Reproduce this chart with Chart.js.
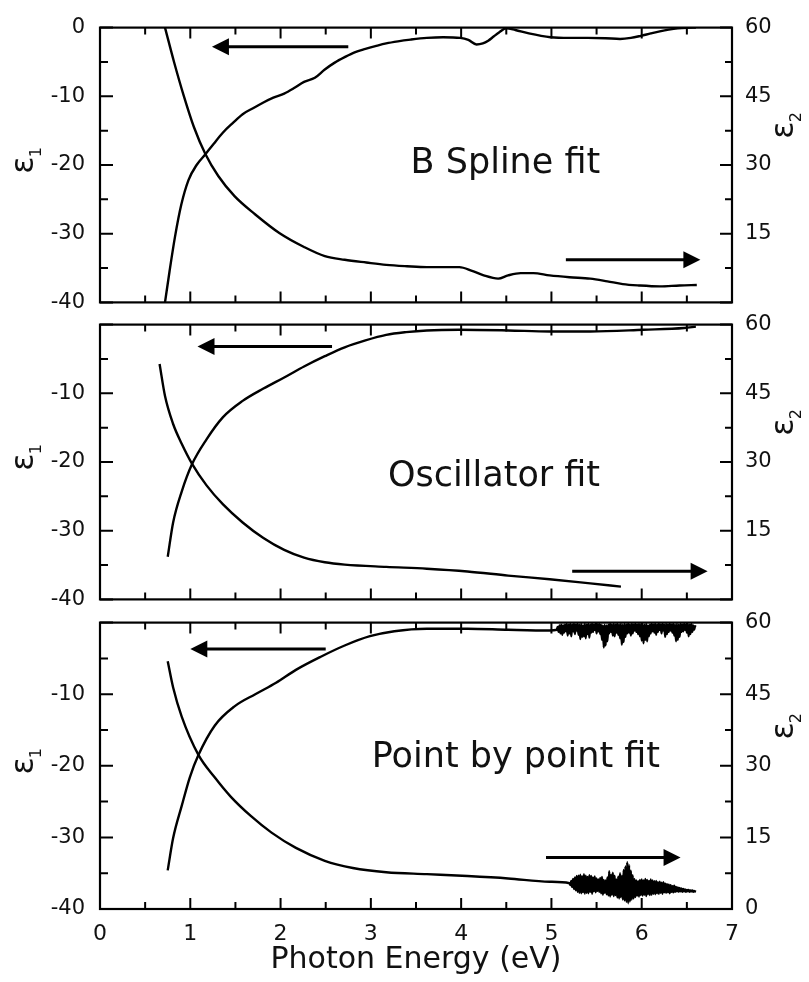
<!DOCTYPE html>
<html>
<head>
<meta charset="utf-8">
<script src="https://cdn.jsdelivr.net/npm/chart.js@4/dist/chart.umd.min.js"></script>
<style>
html,body{margin:0;padding:0;background:#fff;}
#wrap{position:relative;width:809px;height:982px;overflow:hidden;background:#fff;}
canvas{position:absolute;left:0;}
</style>
</head>
<body>
<div id="wrap">
<canvas id="c1" style="top:0px;width:809px;height:330px" width="809" height="330"></canvas>
<canvas id="c2" style="top:297px;width:809px;height:330px" width="809" height="330"></canvas>
<canvas id="c3" style="top:595px;width:809px;height:387px" width="809" height="387"></canvas>
</div>
<script>
// ---------- tick values ----------
const xTickValues = [0, 1, 2, 3, 4, 5, 6, 7];
const xMinorValues = [0.5, 1.5, 2.5, 3.5, 4.5, 5.5, 6.5];
const eps1TickValues = [-40, -30, -20, -10, 0];
const eps1MinorValues = [-35, -25, -15, -5];
const eps2TickValues = [0, 15, 30, 45, 60];
const eps2MinorValues = [7.5, 22.5, 37.5, 52.5];
const xTitle = 'Photon Energy (eV)';
const panelNames = ['B Spline fit', 'Oscillator fit', 'Point by point fit'];

// ---------- B Spline fit ----------
const splineEps1E = [0.72,0.77,0.83,0.90,0.98,1.07,1.17,1.26,1.36,1.47,1.58,1.70,1.81,1.92,2.04,2.15,2.26,2.38,2.49,2.60,2.71,2.82,2.94,3.05,3.17,3.30,3.44,3.62,3.80,3.99,4.08,4.17,4.24,4.30,4.36,4.42,4.50,4.60,4.75,4.99,5.20,5.40,5.60,5.76,5.88,5.99,6.10,6.20,6.30,6.40,6.50,6.60];
const splineEps1 = [-40,-35.5,-30.5,-25.8,-22.2,-20.0,-18.4,-16.9,-15.3,-13.9,-12.6,-11.7,-10.9,-10.2,-9.6,-8.8,-7.9,-7.3,-6.1,-5.1,-4.3,-3.6,-3.1,-2.7,-2.3,-2.0,-1.75,-1.5,-1.4,-1.5,-1.8,-2.45,-2.3,-1.9,-1.3,-0.7,-0.1,-0.35,-0.85,-1.4,-1.5,-1.5,-1.55,-1.65,-1.5,-1.2,-0.85,-0.55,-0.3,-0.12,-0.03,0];
const splineEps2E = [0.72,0.82,0.928,1.04,1.167,1.31,1.49,1.72,1.99,2.26,2.49,2.71,2.95,3.17,3.40,3.62,3.98,4.12,4.25,4.41,4.52,4.66,4.80,4.98,5.20,5.43,5.62,5.79,5.97,6.20,6.42,6.61];
const splineEps2 = [60,52.5,45.1,38.3,32.4,27.6,23.2,19.2,15.1,12.1,10.1,9.3,8.7,8.2,7.9,7.7,7.7,6.9,5.9,5.2,5.9,6.4,6.4,5.9,5.5,5.2,4.6,4.0,3.7,3.5,3.7,3.8];

// ---------- Oscillator fit ----------
const oscEps1E = [0.75,0.81,0.905,1.02,1.18,1.36,1.58,1.81,2.04,2.26,2.49,2.71,2.94,3.17,3.39,3.62,3.98,4.52,4.98,5.43,6.02,6.47,6.60];
const oscEps1 = [-33.8,-28.8,-24.3,-20.3,-16.7,-13.5,-11.1,-9.3,-7.7,-6.1,-4.6,-3.3,-2.3,-1.5,-1.1,-0.85,-0.75,-0.85,-1.0,-1.0,-0.75,-0.5,-0.3];
const oscEps2E = [0.66,0.72,0.81,0.905,1.02,1.18,1.36,1.58,1.81,2.04,2.26,2.49,2.71,3.17,3.62,4.07,4.52,4.98,5.43,5.77];
const oscEps2 = [51.4,44.4,38.3,34.0,29.6,24.9,20.8,16.8,13.4,10.8,9.1,8.1,7.6,7.1,6.7,6.1,5.2,4.4,3.5,2.8];

// ---------- Point by point fit ----------
const pbpEps1E = [0.75,0.81,0.905,0.995,1.09,1.27,1.49,1.72,1.95,2.17,2.44,2.71,2.99,3.26,3.62,4.07,4.52,4.98,
  5.06,5.07,5.08,5.09,5.10,5.11,5.12,5.13,5.14,5.15,
  5.16,5.17,5.18,5.19,5.20,5.21,5.22,5.23,5.24,5.25,
  5.26,5.27,5.28,5.29,5.30,5.31,5.32,5.33,5.34,5.35,
  5.36,5.37,5.38,5.39,5.40,5.41,5.42,5.43,5.44,5.45,
  5.46,5.47,5.48,5.49,5.50,5.51,5.52,5.53,5.54,5.55,
  5.56,5.57,5.58,5.59,5.60,5.61,5.62,5.63,5.64,5.65,
  5.66,5.67,5.68,5.69,5.70,5.71,5.72,5.73,5.74,5.75,
  5.76,5.77,5.78,5.79,5.80,5.81,5.82,5.83,5.84,5.85,
  5.86,5.87,5.88,5.89,5.90,5.91,5.92,5.93,5.94,5.95,
  5.96,5.97,5.98,5.99,6.00,6.01,6.02,6.03,6.04,6.05,
  6.06,6.07,6.08,6.09,6.10,6.11,6.12,6.13,6.14,6.15,
  6.16,6.17,6.18,6.19,6.20,6.21,6.22,6.23,6.24,6.25,
  6.26,6.27,6.28,6.29,6.30,6.31,6.32,6.33,6.34,6.35,
  6.36,6.37,6.38,6.39,6.40,6.41,6.42,6.43,6.44,6.45,
  6.46,6.47,6.48,6.49,6.50,6.51,6.52,6.53,6.54,6.55,
  6.56,6.57,6.58,6.59,6.60];
const pbpEps1 = [-34.6,-30.1,-25.6,-21.6,-18.5,-14.4,-11.7,-10.0,-8.4,-6.6,-4.8,-3.2,-1.9,-1.2,-0.85,-0.85,-1.0,-1.1,
  -1.0,-0.6,-1.3,-0.4,-1.5,-0.3,-1.7,-0.4,-1.4,-0.3,
  -1.2,-0.2,-1.8,-0.3,-1.5,-0.2,-1.9,-0.3,-1.2,-0.2,
  -1.6,-0.3,-1.1,-0.2,-1.7,-0.3,-2.3,-0.2,-2.0,-0.4,
  -1.9,-0.2,-2.2,-0.3,-1.6,-0.2,-2.1,-0.3,-1.4,-0.2,
  -1.3,-0.3,-1.0,-0.2,-1.5,-0.3,-1.2,-0.2,-1.6,-0.3,
  -2.4,-0.4,-3.5,-0.3,-3.2,-0.4,-2.6,-0.3,-1.5,-0.2,
  -1.3,-0.3,-1.8,-0.2,-1.9,-0.3,-1.4,-0.2,-1.7,-0.3,
  -2.2,-0.2,-3.1,-0.3,-2.7,-0.2,-2.0,-0.3,-1.5,-0.2,
  -1.4,-0.3,-1.8,-0.2,-1.5,-0.3,-1.1,-0.2,-1.3,-0.3,
  -1.6,-0.2,-1.9,-0.3,-2.5,-0.2,-2.9,-0.3,-2.4,-0.2,
  -2.6,-0.4,-1.9,-0.3,-1.5,-0.2,-1.2,-0.3,-1.4,-0.2,
  -1.7,-0.3,-1.3,-0.2,-1.0,-0.3,-1.5,-0.2,-1.1,-0.3,
  -2.0,-0.2,-1.6,-0.3,-1.3,-0.2,-1.1,-0.3,-1.4,-0.2,
  -1.8,-0.3,-2.6,-0.2,-2.4,-0.3,-2.0,-0.2,-1.3,-0.3,
  -1.2,-0.2,-1.0,-0.3,-1.4,-0.2,-1.9,-0.3,-1.6,-0.2,
  -1.3,-0.4,-1.0,-0.5,-0.6];
const pbpEps2E = [0.75,0.81,0.905,1.09,1.27,1.45,1.67,1.90,2.17,2.49,2.80,3.17,3.62,4.07,4.52,4.98,
  5.20,5.21,5.22,5.23,5.24,5.25,5.26,5.27,5.28,5.29,
  5.30,5.31,5.32,5.33,5.34,5.35,5.36,5.37,5.38,5.39,
  5.40,5.41,5.42,5.43,5.44,5.45,5.46,5.47,5.48,5.49,
  5.50,5.51,5.52,5.53,5.54,5.55,5.56,5.57,5.58,5.59,
  5.60,5.61,5.62,5.63,5.64,5.65,5.66,5.67,5.68,5.69,
  5.70,5.71,5.72,5.73,5.74,5.75,5.76,5.77,5.78,5.79,
  5.80,5.81,5.82,5.83,5.84,5.85,5.86,5.87,5.88,5.89,
  5.90,5.91,5.92,5.93,5.94,5.95,5.96,5.97,5.98,5.99,
  6.00,6.01,6.02,6.03,6.04,6.05,6.06,6.07,6.08,6.09,
  6.10,6.11,6.12,6.13,6.14,6.15,6.16,6.17,6.18,6.19,
  6.20,6.21,6.22,6.23,6.24,6.25,6.26,6.27,6.28,6.29,
  6.30,6.31,6.32,6.33,6.34,6.35,6.36,6.37,6.38,6.39,
  6.40,6.41,6.42,6.43,6.44,6.45,6.46,6.47,6.48,6.49,
  6.50,6.51,6.52,6.53,6.54,6.55,6.56,6.57,6.58,6.59,
  6.60];
const pbpEps2 = [51.9,46.4,40.3,32.3,27.6,23.5,19.5,16.0,12.8,10.1,8.6,7.7,7.3,6.9,6.4,5.7,
  5.4,5.0,5.9,4.6,6.3,4.2,6.6,3.9,6.9,3.6,
  7.0,3.4,7.2,3.3,6.8,3.5,7.3,3.2,7.0,3.4,
  6.7,3.3,7.1,3.6,6.9,3.2,6.6,3.7,6.8,3.5,
  6.4,3.8,6.2,3.6,6.5,3.3,6.7,3.0,6.1,3.4,
  6.0,3.1,6.6,2.8,7.9,2.6,7.2,3.0,7.6,2.7,
  7.0,2.9,6.2,2.4,6.8,2.2,7.5,2.5,6.9,2.0,
  8.2,1.8,8.9,1.5,9.8,1.2,9.2,1.6,8.0,2.0,
  7.1,2.2,6.3,2.5,6.0,2.8,5.8,2.6,6.1,2.9,
  6.2,2.8,6.0,3.0,6.3,2.7,6.1,3.1,5.9,2.9,
  6.2,3.0,6.0,3.2,5.8,3.1,5.9,3.3,5.6,3.2,
  5.7,3.4,5.5,3.2,5.6,3.5,5.3,3.4,5.2,3.5,
  5.1,3.3,5.0,3.6,4.8,3.5,4.9,3.6,4.6,3.7,
  4.5,3.6,4.4,3.7,4.3,3.6,4.2,3.7,4.1,3.6,
  4.0,3.7,4.0,3.6,3.9,3.7,3.9,3.6,3.8,3.7,
  3.6];

// ---------- rendering ----------
Chart.defaults.font.family = "'DejaVu Sans', sans-serif";
Chart.defaults.font.size = 21;
Chart.defaults.color = '#111';

function pts(xs, ys) { return xs.map((x, i) => ({ x: x, y: ys[i] })); }

function drawEps(ctx, bx, cy, sub) {
  ctx.save();
  ctx.translate(bx, cy);
  ctx.rotate(-Math.PI / 2);
  ctx.fillStyle = '#111';
  ctx.textAlign = 'left';
  ctx.textBaseline = 'alphabetic';
  ctx.font = "32px 'DejaVu Sans'";
  const w = ctx.measureText('ε').width;
  ctx.fillText('ε', -w / 2, 0);
  ctx.font = "16px 'DejaVu Sans'";
  ctx.fillText(sub, w / 2 - 1, 8);
  ctx.restore();
}

const decor = {
  id: 'decor',
  afterDatasetsDraw(chart, args, o) {
    const ctx = chart.ctx, a = chart.chartArea;
    const sx = chart.scales.x, s1 = chart.scales.y, s2 = chart.scales.y2;
    ctx.save();
    ctx.strokeStyle = '#000';
    ctx.lineWidth = 2.2;
    ctx.strokeRect(a.left, a.top, a.right - a.left, a.bottom - a.top);
    ctx.lineWidth = 2;
    ctx.beginPath();
    const xt = (v, L) => { const p = sx.getPixelForValue(v); ctx.moveTo(p, a.bottom); ctx.lineTo(p, a.bottom - L); ctx.moveTo(p, a.top); ctx.lineTo(p, a.top + L); };
    xTickValues.forEach(v => xt(v, 11)); xMinorValues.forEach(v => xt(v, 7));
    const lt = (v, L) => { const p = s1.getPixelForValue(v); ctx.moveTo(a.left, p); ctx.lineTo(a.left + L, p); };
    eps1TickValues.forEach(v => lt(v, 13)); eps1MinorValues.forEach(v => lt(v, 8));
    const rt = (v, L) => { const p = s2.getPixelForValue(v); ctx.moveTo(a.right, p); ctx.lineTo(a.right - L, p); };
    eps2TickValues.forEach(v => rt(v, 12)); eps2MinorValues.forEach(v => rt(v, 7));
    ctx.stroke();
    // arrows
    ctx.fillStyle = '#000';
    o.arrows.forEach(ar => {
      const x0 = sx.getPixelForValue(ar.from), x1 = sx.getPixelForValue(ar.to), yy = s1.getPixelForValue(ar.at);
      const dir = Math.sign(x1 - x0), head = 17, hw = 8.5;
      ctx.lineWidth = 3;
      ctx.beginPath(); ctx.moveTo(x0, yy); ctx.lineTo(x1 - dir * (head - 2), yy); ctx.stroke();
      ctx.beginPath(); ctx.moveTo(x1, yy); ctx.lineTo(x1 - dir * head, yy - hw); ctx.lineTo(x1 - dir * head, yy + hw); ctx.closePath(); ctx.fill();
    });
    // panel label
    ctx.font = "35px 'DejaVu Sans'";
    ctx.textAlign = 'left';
    ctx.textBaseline = 'alphabetic';
    ctx.fillStyle = '#111';
    ctx.fillText(o.label, sx.getPixelForValue(o.labelX), s1.getPixelForValue(o.labelY));
    // axis titles
    const mid = (a.top + a.bottom) / 2;
    drawEps(ctx, a.left - 67, mid, '1');
    drawEps(ctx, a.right + 61, mid - 35, '2');
    ctx.restore();
  }
};

function buildPanel(id, e1x, e1, e2x, e2, opt) {
  const lineStyle = { borderColor: '#000', borderWidth: 2.4, pointRadius: 0, cubicInterpolationMode: 'monotone', fill: false };
  return new Chart(document.getElementById(id), {
    type: 'line',
    data: {
      datasets: [
        Object.assign({ label: 'ε1', data: pts(e1x, e1), yAxisID: 'y' }, lineStyle),
        Object.assign({ label: 'ε2', data: pts(e2x, e2), yAxisID: 'y2' }, lineStyle)
      ]
    },
    options: {
      responsive: false,
      animation: false,
      events: [],
      layout: { padding: { top: 16, bottom: opt.padBottom, left: 0, right: 0 } },
      plugins: {
        legend: { display: false },
        tooltip: { enabled: false },
        decor: { label: opt.label, labelX: opt.labelX, labelY: opt.labelY, arrows: opt.arrows }
      },
      scales: {
        x: {
          type: 'linear', min: 0, max: 7, display: opt.showX,
          afterBuildTicks: s => { s.ticks = xTickValues.map(v => ({ value: v })); },
          afterFit: s => { if (opt.showX) s.height = 73; },
          ticks: { padding: 12, maxRotation: 0, autoSkip: false, font: { size: 22 } },
          grid: { display: false, drawTicks: false, tickLength: 0 },
          border: { display: false },
          title: { display: opt.showX, text: xTitle, font: { size: 30 }, color: '#111', padding: { top: 0, bottom: 4 } }
        },
        y: {
          position: 'left', min: -40, max: 0,
          afterBuildTicks: s => { s.ticks = eps1TickValues.map(v => ({ value: v })); },
          afterFit: s => { s.width = 100; },
          ticks: { padding: 15, font: { size: 21 }, callback: v => opt.hideLeft.includes(v) ? '' : String(v) },
          grid: { display: false, drawTicks: false, tickLength: 0 },
          border: { display: false }
        },
        y2: {
          position: 'right', min: 0, max: 60,
          afterBuildTicks: s => { s.ticks = eps2TickValues.map(v => ({ value: v })); },
          afterFit: s => { s.width = 77; },
          ticks: { padding: 13, font: { size: 21 }, callback: v => opt.hideRight.includes(v) ? '' : String(v) },
          grid: { display: false, drawTicks: false, tickLength: 0 },
          border: { display: false }
        }
      }
    },
    plugins: [decor]
  });
}

buildPanel('c1', splineEps1E, splineEps1, splineEps2E, splineEps2, {
  label: panelNames[0], labelX: 3.44, labelY: -21.1, showX: false, padBottom: 17,
  hideLeft: [], hideRight: [0],
  arrows: [{ from: 2.75, to: 1.24, at: -2.8 }, { from: 5.16, to: 6.65, at: -33.8 }]
});
buildPanel('c2', oscEps1E, oscEps1, oscEps2E, oscEps2, {
  label: panelNames[1], labelX: 3.19, labelY: -23.5, showX: false, padBottom: 16,
  hideLeft: [0], hideRight: [0],
  arrows: [{ from: 2.57, to: 1.08, at: -3.2 }, { from: 5.23, to: 6.73, at: -35.9 }]
});
buildPanel('c3', pbpEps1E, pbpEps1, pbpEps2E, pbpEps2, {
  label: panelNames[2], labelX: 3.01, labelY: -20.1, showX: true, padBottom: 0,
  hideLeft: [0], hideRight: [],
  arrows: [{ from: 2.50, to: 1.0, at: -3.7 }, { from: 4.94, to: 6.43, at: -32.8 }]
});
</script>
</body>
</html>
